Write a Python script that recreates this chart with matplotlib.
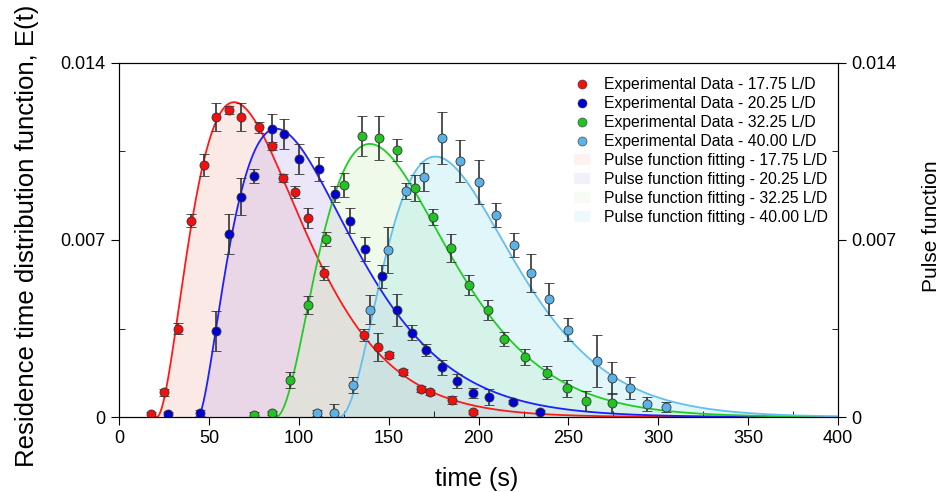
import numpy as np
import matplotlib
matplotlib.use("Agg")
import matplotlib.pyplot as plt
from matplotlib.patches import Patch
from matplotlib.lines import Line2D

plt.rcParams['font.family'] = ['Liberation Sans', 'DejaVu Sans']

# Experimental residence-time data (time in s, E(t) and its error)
t_red = [18, 25, 33, 40, 47, 54, 61, 68, 78, 85, 91, 98, 105, 114, 136, 144, 150, 158, 168, 173, 185, 197]
E_red = [0.0001, 0.00097, 0.0035, 0.00777, 0.00998, 0.01187, 0.01214, 0.01187, 0.01145, 0.01073, 0.00944,
         0.00891, 0.00788, 0.00571, 0.00326, 0.00277, 0.00245, 0.00179, 0.00112, 0.00097, 0.00067, 0.00019]
err_red = [0.00008, 0.00012, 0.0002, 0.00024, 0.00043, 0.00055, 0.00016, 0.00055, 0.0002, 0.00016, 0.00016,
           0.00024, 0.0004, 0.00028, 0.00024, 0.00055, 0.00012, 0.00012, 0.00012, 0.00008, 0.00016, 0.00008]

t_blue = [27, 45, 54, 61, 68, 75, 85, 92, 100, 111, 120, 128.5, 137, 146.5, 154.5, 163, 171, 179.5, 188, 197,
          206, 219, 234]
E_blue = [0.0001, 0.00015, 0.0034, 0.00724, 0.00872, 0.00954, 0.01139, 0.01119, 0.0102, 0.00981, 0.00882,
          0.00777, 0.00665, 0.00556, 0.00422, 0.00334, 0.00264, 0.00196, 0.00142, 0.00096, 0.0008, 0.00058, 0.00019]
err_blue = [0.00008, 0.00012, 0.00079, 0.00079, 0.00075, 0.00028, 0.00059, 0.00059, 0.00059, 0.00047, 0.00032,
            0.00051, 0.00047, 0.00047, 0.00063, 0.00028, 0.00024, 0.00028, 0.00028, 0.0002, 0.00032, 0.00008, 0.00008]

t_green = [75, 85, 95, 105, 115, 125, 135, 144.5, 154.5, 164.5, 174.5, 184.5, 194.5, 205, 214, 226, 238, 249,
           259.5, 274.5]
E_green = [0.00008, 0.00015, 0.00146, 0.00442, 0.00705, 0.00918, 0.01112, 0.01105, 0.01057, 0.00906, 0.0079,
           0.00668, 0.00523, 0.00422, 0.00308, 0.00238, 0.00176, 0.00113, 0.00064, 0.00056]
err_green = [0.00012, 0.00008, 0.00032, 0.00035, 0.00028, 0.00047, 0.00079, 0.00087, 0.00043, 0.00051, 0.00032,
             0.00055, 0.0004, 0.0004, 0.00028, 0.00032, 0.00024, 0.00032, 0.0004, 0.0004]

t_cyan = [110, 119.5, 130, 139.5, 149.5, 159.5, 169.5, 179.5, 189.5, 200, 209.5, 219.5, 229, 239, 249.5, 266,
          274.5, 284, 293.5, 304]
E_cyan = [0.00015, 0.00015, 0.00126, 0.00425, 0.00661, 0.00895, 0.0095, 0.01103, 0.01011, 0.00928, 0.008,
          0.00681, 0.00569, 0.00468, 0.00346, 0.00222, 0.00155, 0.00116, 0.00051, 0.00041]
err_cyan = [0.00012, 0.00035, 0.00032, 0.00059, 0.00091, 0.00032, 0.00055, 0.00103, 0.00083, 0.00087, 0.00047,
            0.00047, 0.00075, 0.00063, 0.00047, 0.00103, 0.00063, 0.00043, 0.00028, 0.0002]

ratios = ['17.75', '20.25', '32.25', '40.00']

# Pulse-function fit parameters: onset time, peak time, peak height, shape exponent
fit_onset = [21, 44, 87, 122]
fit_peak_t = [64, 87.5, 139.5, 176]
fit_peak_E = [0.01245, 0.0114, 0.0108, 0.0103]
fit_shape = [1.96, 1.68, 2.2, 2.35]


def pulse(t, onset, tpeak, Emax, P):
    u = np.clip(np.asarray(t, float) - onset, 0, None)
    r = u / (tpeak - onset)
    return Emax * r ** P * np.exp(P * (1 - r))


series = [
    (t_red, E_red, err_red, '#f20f0f', '#ff1a1a', '#f6c2b8'),
    (t_blue, E_blue, err_blue, '#0000d0', '#1f1fff', '#c9b8ee'),
    (t_green, E_green, err_green, '#22c322', '#22cc22', '#d4f2c4'),
    (t_cyan, E_cyan, err_cyan, '#5ab2e6', '#63bff0', '#a8e8ec'),
]

fig = plt.figure(figsize=(9.47, 4.92), dpi=100)
ax = fig.add_axes([0.1257, 0.1524, 0.7593, 0.7196])

tt = np.linspace(0, 400, 2001)
for i, (t, E, err, mc, lc, fc) in enumerate(series):
    y = pulse(tt, fit_onset[i], fit_peak_t[i], fit_peak_E[i], fit_shape[i])
    m = tt >= fit_onset[i]
    ax.fill_between(tt[m], 0, y[m], color=fc, alpha=0.35, lw=0, zorder=1)
    ax.plot(tt[m], y[m], color=lc, lw=1.3, zorder=2)
for t, E, err, mc, lc, fc in series:
    ax.errorbar(t, E, yerr=err, fmt='o', ms=6.5, mfc=mc, mec='#333333', mew=0.6,
                ecolor='#333333', elinewidth=1.2, capsize=3.6, capthick=1.2, zorder=3)

ax.set_xlim(0, 400)
ax.set_ylim(0, 0.014)
ax.set_xticks(np.arange(0, 401, 50))
ax.set_xticks(np.arange(25, 400, 50), minor=True)
ax.set_yticks([0, 0.007, 0.014])
ax.set_yticklabels(['0', '0.007', '0.014'])
ax.set_yticks([0.0035, 0.0105], minor=True)
ax.tick_params(which='major', direction='out', length=6, labelsize=13)
ax.tick_params(which='minor', direction='in', length=4)
ax.set_xlabel('time (s)', fontsize=18)
ax.xaxis.set_label_coords(0.497, -0.142)
ax.set_ylabel('Residence time distribution function, E(t)', fontsize=18.5)
ax.yaxis.set_label_coords(-0.112, 0.511)

ax2 = ax.twinx()
ax2.set_ylim(0, 0.014)
ax2.set_yticks([0, 0.007, 0.014])
ax2.set_yticklabels(['0', '0.007', '0.014'])
ax2.set_yticks([0.0035, 0.0105], minor=True)
ax2.tick_params(which='major', direction='out', length=6, labelsize=13)
ax2.tick_params(which='minor', direction='in', length=4)
ax2.set_ylabel('Pulse function', fontsize=15)
ax2.yaxis.set_label_coords(1.117, 0.54)

handles = [Line2D([], [], ls='none', marker='o', ms=6.5, mfc=s[3], mec='#333333', mew=0.4) for s in series]
handles += [Patch(facecolor=s[5], alpha=0.2, edgecolor='none') for s in series]
labels = ['Experimental Data - %s L/D' % r for r in ratios] + ['Pulse function fitting - %s L/D' % r for r in ratios]
ax.legend(handles, labels, loc='upper right', bbox_to_anchor=(0.9944, 0.977), frameon=False, fontsize=11.3,
          labelspacing=0.25, handlelength=1.0, handletextpad=0.9, borderaxespad=0)

fig.savefig('out.png', dpi=100)
